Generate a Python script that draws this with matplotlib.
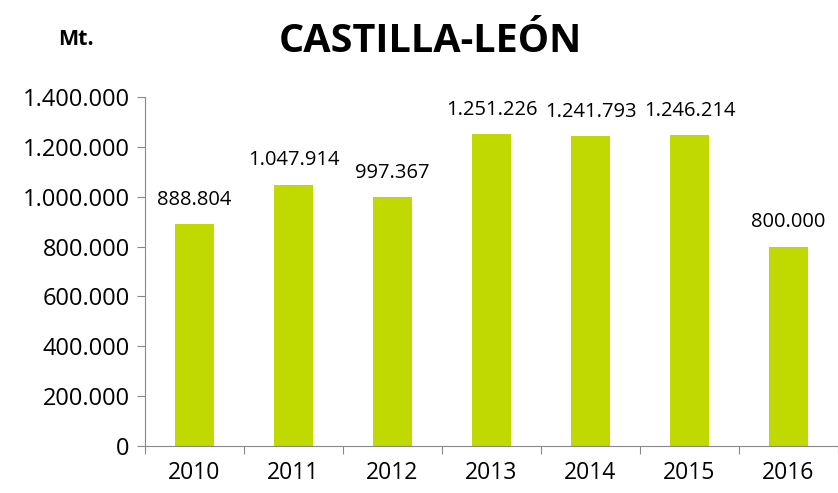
import matplotlib.pyplot as plt
import numpy as np
from matplotlib.ticker import FuncFormatter

years = ['2010', '2011', '2012', '2013', '2014', '2015', '2016']
values = [888804, 1047914, 997367, 1251226, 1241793, 1246214, 800000]
yticks = [0, 200000, 400000, 600000, 800000, 1000000, 1200000, 1400000]

plt.rcParams['font.family'] = ['Open Sans', 'DejaVu Sans']


def miles(v):
    return f'{int(v):,}'.replace(',', '.')


fig = plt.figure(figsize=(8.38, 4.93), dpi=100)
ax = fig.add_axes([0.173, 0.0953, 0.827, 0.708])

x = np.arange(len(years))
ax.bar(x, values, width=0.4, color='#C0D900')

for xi, v in zip(x, values):
    ax.text(xi, v + 58000, miles(v), ha='center', va='bottom', fontsize=14.5)

ax.set_xlim(-0.5, len(years) - 0.5)
ax.set_ylim(0, 1400000)
ax.set_yticks(yticks)
ax.yaxis.set_major_formatter(FuncFormatter(lambda v, p: miles(v)))

# x ticks between categories, labels centred
ax.set_xticks(np.arange(-0.5, len(years), 1.0))
ax.set_xticklabels([])
ax.set_xticks(x, minor=True)
ax.set_xticklabels(years, minor=True)
ax.tick_params(axis='x', which='minor', length=0, labelsize=16.5, pad=11)
ax.tick_params(axis='x', which='major', length=6, color='#888888', direction='out')
ax.tick_params(axis='y', length=6, color='#888888', labelsize=17, pad=5)

for s in ['top', 'right']:
    ax.spines[s].set_visible(False)
ax.spines['left'].set_color('#888888')
ax.spines['bottom'].set_color('#888888')

fig.text(0.513, 0.915, 'CASTILLA-LEÓN', ha='center', va='center',
         fontsize=28.5, fontweight='bold')
fig.text(0.091, 0.919, 'Mt.', ha='center', va='center', fontsize=15.5, fontweight='bold')

fig.savefig('out.png', dpi=100)
